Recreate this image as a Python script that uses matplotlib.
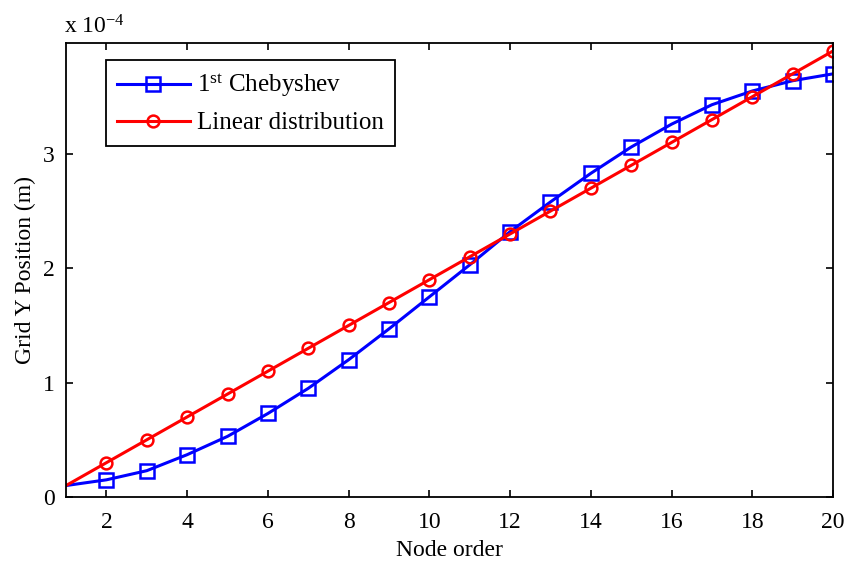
import matplotlib
matplotlib.use("Agg")
import matplotlib.pyplot as plt

# node index along the grid
nodes = list(range(1, 21))

# grid Y positions, in units of 1e-4 m
chebyshev = [0.10, 0.15, 0.23, 0.37, 0.53, 0.73, 0.95, 1.20, 1.47, 1.75,
             2.03, 2.32, 2.58, 2.83, 3.06, 3.26, 3.43, 3.55, 3.64, 3.70]
linear = [0.10, 0.30, 0.50, 0.70, 0.90, 1.10, 1.30, 1.50, 1.70, 1.90,
          2.10, 2.30, 2.50, 2.70, 2.90, 3.10, 3.30, 3.50, 3.70, 3.90]

plt.rcParams['font.family'] = 'Liberation Serif'
plt.rcParams['mathtext.fontset'] = 'custom'
plt.rcParams['mathtext.rm'] = 'Liberation Serif'
plt.rcParams['mathtext.it'] = 'Liberation Serif:italic'

fs = 17

fig = plt.figure(figsize=(8.47, 5.67), dpi=100)
ax = fig.add_axes([0.078, 0.1235, 0.9055, 0.8007])

ax.plot(nodes, chebyshev, color='#0000ff', lw=2.2, marker='s', ms=10,
        mfc='none', mew=1.8, markevery=range(1, 20),
        label=r'1$^{\mathrm{st}}$ Chebyshev')
ax.plot(nodes, linear, color='#ff0000', lw=2.2, marker='o', ms=8.5,
        mfc='none', mew=1.8, markevery=range(1, 20),
        label='Linear distribution')

ax.set_xlim(1, 20)
ax.set_ylim(0, 3.97)
ax.set_xticks(range(2, 21, 2))
ax.set_yticks([0, 1, 2, 3])
ax.tick_params(direction='in', length=5, width=1.2, labelsize=fs,
               top=True, right=True)
ax.tick_params(axis='x', pad=11)
ax.tick_params(axis='y', pad=8)
for s in ax.spines.values():
    s.set_linewidth(1.3)

ax.set_xlabel('Node order', fontsize=fs, labelpad=5)
ax.set_ylabel('Grid Y Position (m)', fontsize=fs, labelpad=5)
ax.text(-0.003, 1.01, r'x 10$^{-4}$', transform=ax.transAxes, fontsize=fs,
        ha='left', va='bottom')

leg = ax.legend(loc='upper left', bbox_to_anchor=(0.052, 0.962), fontsize=18,
                fancybox=False, framealpha=1, edgecolor='black',
                handlelength=2.9, borderaxespad=0, borderpad=0.45,
                labelspacing=0.5, handletextpad=0.3)
leg.get_frame().set_linewidth(1.3)

fig.savefig('out.png', dpi=100)
